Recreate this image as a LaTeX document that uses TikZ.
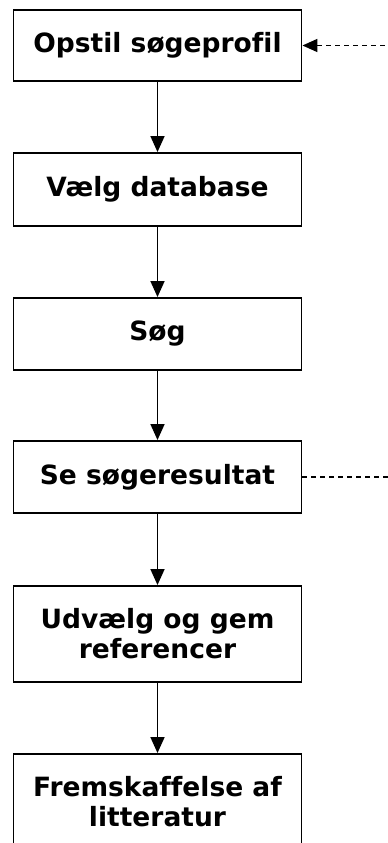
\documentclass[tikz,border=0pt]{standalone}
\usepackage{fontspec}
\setmainfont{DejaVu Sans}[Ligatures=NoCommon]
\usetikzlibrary{arrows.meta}

\tikzset{
  trin/.style={draw, line width=1.9pt, minimum width=288pt, inner sep=0pt,
    align=center, font=\bfseries\fontsize{26.5}{30}\selectfont},
  pil/.style={-{Triangle[length=16pt,width=14pt]}, line width=1.6pt},
  stiplet/.style={line width=1.6pt, dash pattern=on 5pt off 4pt}
}

\begin{document}
\begin{tikzpicture}[x=1pt, y=-1pt]

    % billedets ramme
    \clip (0,0) rectangle (388,843);

    % trinene i søgningen
    \node[trin, minimum height=71pt] (profil) at (157.5,45.5) {Opstil søgeprofil};
    \node[trin, minimum height=73pt] (database) at (157.5,189.5) {Vælg database};
    \node[trin, minimum height=72pt] (soeg) at (157.5,334) {Søg};
    \node[trin, minimum height=72pt] (resultat) at (157.5,477) {Se søgeresultat};
    \node[trin, minimum height=96pt] (udvaelg) at (157.5,634) {Udvælg og gem\\referencer};
    \node[trin, minimum height=96pt] (litteratur) at (157.5,802) {Fremskaffelse af\\litteratur};

    % pile mellem trinene
    \draw[pil] (profil) -- (database);
    \draw[pil] (database) -- (soeg);
    \draw[pil] (soeg) -- (resultat);
    \draw[pil] (resultat) -- (udvaelg);
    \draw[pil] (udvaelg) -- (litteratur);

    % stiplede linjer ud til højre
    \coordinate (tilbage) at (400,45.5);
    \coordinate (videre) at (400,477);
    \draw[stiplet, {Triangle[length=15pt,width=13pt]}-] (profil.east) -- (tilbage);
    \draw[stiplet] (resultat.east) -- (videre);
\end{tikzpicture}
\end{document}
